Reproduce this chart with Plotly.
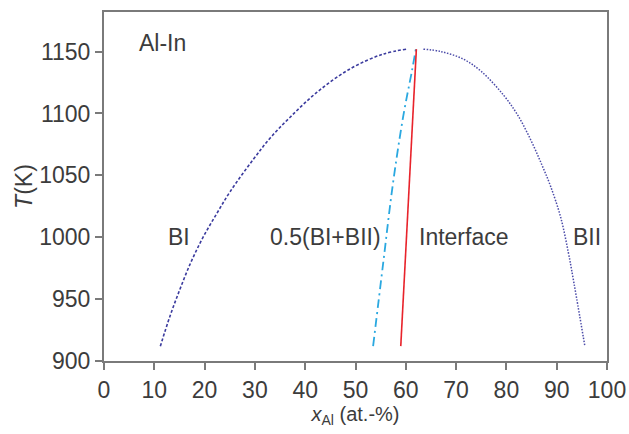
import plotly.graph_objects as go

# Al-In miscibility gap: binodal branches, their mean and the interface composition
bi_x = [11.2, 13.1, 15.1, 17.3, 19.7, 22.4, 25.1, 29.7, 33.0, 37.0, 42.3, 48.9, 55.5, 60.2]
bi_T = [912, 936, 958, 980, 1000, 1019, 1037, 1063, 1080, 1097, 1117, 1136, 1148, 1152]

bii_x = [63.5, 67.0, 71.4, 75.0, 79.4, 82.2, 84.8, 87.0, 88.8, 90.8, 92.3, 93.3, 95.6]
bii_T = [1152, 1150, 1144, 1134, 1115, 1099, 1079, 1059, 1041, 1016, 988, 966, 912]

mean_x = [53.5, 55.5, 57.4, 59.5, 61.2, 62.0]
mean_T = [912, 979, 1042, 1098, 1134, 1152]

iface_x = [59.0, 60.8, 62.1]
iface_T = [912, 1047, 1152]

x_ticks = [0, 10, 20, 30, 40, 50, 60, 70, 80, 90, 100]
y_ticks = [900, 950, 1000, 1050, 1100, 1150]

FONT = "Liberation Sans, Arial, sans-serif"
TXT = "#3c3c3c"
AX = "#7a7a7a"

fig = go.Figure()
fig.add_trace(go.Scatter(x=bi_x, y=bi_T, mode="lines", line=dict(color="#3b3b9e", width=1.6, dash="3px,2px"), line_shape="spline"))
fig.add_trace(go.Scatter(x=bii_x, y=bii_T, mode="lines", line=dict(color="#4a4aa8", width=1.5, dash="1.5px,1.5px"), line_shape="spline"))
fig.add_trace(go.Scatter(x=mean_x, y=mean_T, mode="lines", line=dict(color="#2aa8e0", width=1.8, dash="9px,4px,2px,4px"), line_shape="spline"))
fig.add_trace(go.Scatter(x=iface_x, y=iface_T, mode="lines", line=dict(color="#e8232b", width=1.6)))

labels = [("Al-In", 6.5, 1157, "left"), ("BI", 15.0, 1000, "center"), ("0.5(BI+BII)", 44.0, 1000, "center"),
          ("Interface", 71.5, 1000, "center"), ("BII", 96.0, 1000, "center")]
for text, lx, ly, anchor in labels:
    fig.add_annotation(x=lx, y=ly, text=text, showarrow=False, xanchor=anchor, yanchor="middle",
                       font=dict(family=FONT, size=23, color=TXT))

axis_common = dict(showgrid=False, zeroline=False, showline=True, linecolor=AX, linewidth=2,
                   ticks="outside", ticklen=7, tickwidth=1.5, tickcolor=AX, mirror=True,
                   automargin=False, tickfont=dict(family=FONT, size=23, color=TXT))

fig.update_xaxes(range=[0, 100], tickvals=x_ticks, **axis_common,
                 title=dict(text="<i>x</i><sub>Al</sub> (at.-%)", font=dict(family=FONT, size=20, color=TXT), standoff=4))
fig.update_yaxes(range=[900, 1182], tickvals=y_ticks, **axis_common,
                 title=dict(text="<i>T</i>(K)", font=dict(family=FONT, size=23, color=TXT), standoff=0))

fig.update_layout(width=629, height=434, margin=dict(l=104, r=22, t=12, b=73),
                  paper_bgcolor="white", plot_bgcolor="white", showlegend=False)

fig.write_html("out.html")
